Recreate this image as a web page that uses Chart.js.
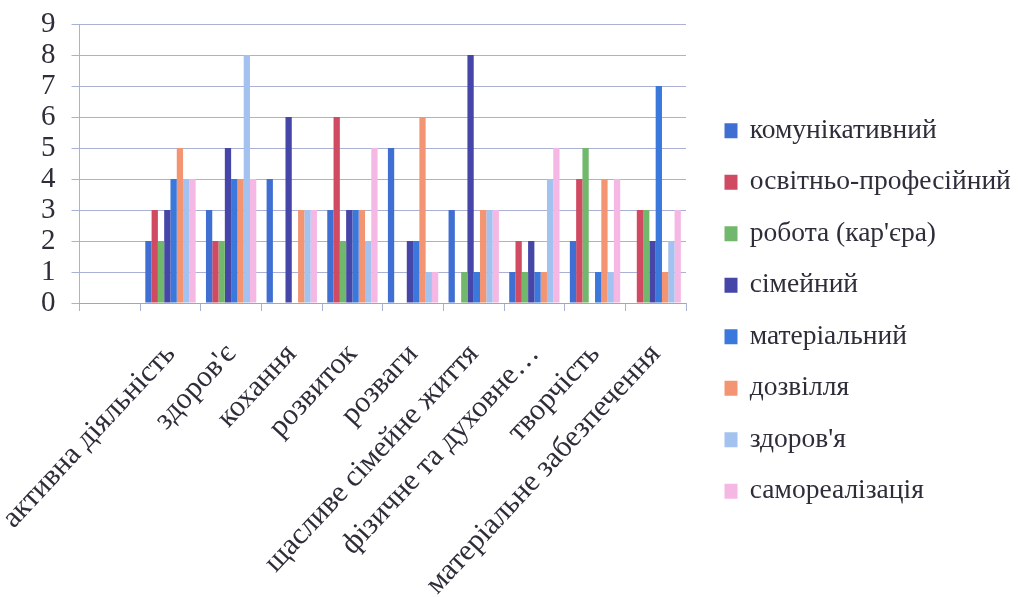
<!DOCTYPE html>
<html>
<head>
<meta charset="utf-8">
<script src="https://cdn.jsdelivr.net/npm/chart.js@4/dist/chart.umd.min.js"></script>
<style>
  html, body { margin: 0; padding: 0; background: #fff; }
  #wrap { width: 1020px; height: 597px; }
</style>
</head>
<body>
<div id="wrap"><canvas id="c" width="1020" height="597"></canvas></div>
<script>
// Categories along the x axis (the first slot is left blank)
const categories = ['', 'активна діяльність', "здоров'є", 'кохання', 'розвиток', 'розваги',
  'щасливе сімейне життя', 'фізичне та духовне…', 'творчість', 'матеріальне забезпечення'];

// Series names
const seriesNames = ['комунікативний', 'освітньо-професійний', "робота (кар'єра)", 'сімейний',
  'матеріальний', 'дозвілля', "здоров'я", 'самореалізація'];

// Counts per category for each series
const komunikatyvnyi   = [0, 2, 3, 4, 3, 5, 3, 1, 2, 0];
const osvitnoProf      = [0, 3, 2, 0, 6, 0, 0, 2, 4, 3];
const robota           = [0, 2, 2, 0, 2, 0, 1, 1, 5, 3];
const simeinyi         = [0, 3, 5, 6, 3, 2, 8, 2, 0, 2];
const materialnyi      = [0, 4, 4, 0, 3, 2, 1, 1, 1, 7];
const dozvillia        = [0, 5, 4, 3, 3, 6, 3, 1, 4, 1];
const zdorovia         = [0, 4, 8, 3, 2, 1, 3, 4, 1, 2];
const samorealizatsiia = [0, 4, 4, 3, 5, 1, 3, 5, 4, 3];

// Y axis tick values
const yTicks = [0, 1, 2, 3, 4, 5, 6, 7, 8, 9];

const seriesValues = [komunikatyvnyi, osvitnoProf, robota, simeinyi,
  materialnyi, dozvillia, zdorovia, samorealizatsiia];
const seriesColors = ['#3f6fd2', '#d04a62', '#72b86c', '#4646a8',
  '#3b78dc', '#f39572', '#a3c2f0', '#f5b8e4'];

const serif = "'Liberation Serif', 'Times New Roman', serif";
const textColor = '#2e2e3a';
const gridColor = 'rgba(155,163,205,0.85)';

// Plot frame: top of the value axis and height of the category axis band
const plotTop = 24;
const xAxisHeight = 294;

// Legend geometry: fixed width on the right, items placed from a fixed top
const legendWidth = 334;
const legendGap = 16;
const legendTop = 93;

const legendPlacement = {
  id: 'legendPlacement',
  beforeLayout(chart) {
    const lg = chart.legend;
    if (lg && !lg._fixedFit) {
      const fit = lg.fit.bind(lg);
      lg.fit = function () { fit(); this.width = legendWidth; };
      lg._fixedFit = true;
    }
  },
  afterLayout(chart) {
    const lg = chart.legend;
    if (!lg) return;
    lg.left += legendGap;
    lg.right += legendGap;
    lg.top = legendTop;
  }
};

new Chart(document.getElementById('c'), {
  type: 'bar',
  data: {
    labels: categories,
    datasets: seriesNames.map((name, i) => ({
      label: name,
      data: seriesValues[i],
      backgroundColor: seriesColors[i],
      borderWidth: 0,
      barPercentage: 1.0,
      categoryPercentage: 0.83
    }))
  },
  options: {
    responsive: false,
    animation: false,
    layout: { padding: { top: plotTop, right: 0, bottom: 0, left: 25 } },
    plugins: {
      legend: {
        position: 'right',
        align: 'start',
        labels: {
          font: { family: serif, size: 27.5 },
          color: textColor,
          boxWidth: 10,
          boxHeight: 12,
          padding: 24,
          // square markers: a small filled box with a same-colour outline
          generateLabels(chart) {
            const items = Chart.defaults.plugins.legend.labels.generateLabels(chart);
            items.forEach(it => {
              it.strokeStyle = it.fillStyle;
              it.lineWidth = 3;
            });
            return items;
          }
        }
      },
      tooltip: { enabled: false }
    },
    scales: {
      x: {
        afterFit: (s) => { s.height = xAxisHeight; },
        grid: {
          display: true,
          drawOnChartArea: false,
          tickLength: 8,
          color: gridColor
        },
        border: { display: true, color: gridColor },
        ticks: {
          font: { family: serif, size: 30 },
          color: textColor,
          minRotation: 47,
          maxRotation: 47,
          autoSkip: false,
          padding: 26
        }
      },
      y: {
        min: 0,
        max: 9,
        afterBuildTicks: (axis) => { axis.ticks = yTicks.map(v => ({ value: v })); },
        afterFit: (s) => { s.paddingTop = 0; s.paddingBottom = 0; },
        grid: {
          color: gridColor,
          tickLength: 8
        },
        border: { display: true, color: gridColor },
        ticks: {
          font: { family: serif, size: 29, lineHeight: 1 },
          color: textColor,
          padding: 16,
          autoSkip: false,
          stepSize: 1
        }
      }
    }
  },
  plugins: [legendPlacement]
});
</script>
</body>
</html>
